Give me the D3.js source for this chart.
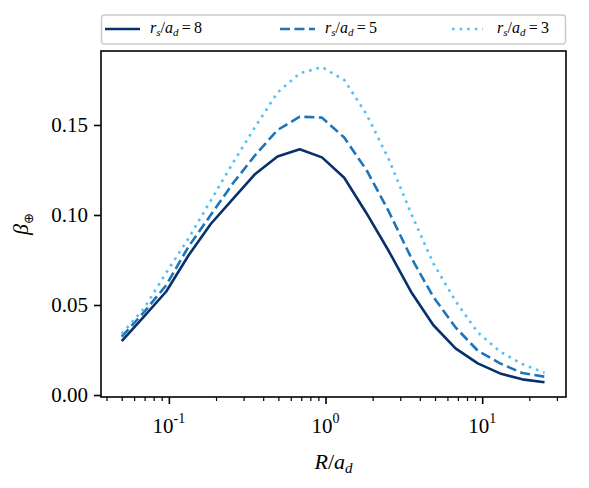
<!DOCTYPE html>
<html>
<head>
<script src="https://cdn.jsdelivr.net/npm/d3@7"></script>
</head>
<body style="margin:0">
<script>
// R / a_d sample points (log spaced)
const radius = [0.05, 0.0693, 0.0962, 0.1334, 0.185, 0.2566, 0.3559, 0.4936, 0.6846, 0.9493,
                1.3166, 1.826, 2.5325, 3.5123, 4.8712, 6.7558, 9.3697, 12.995, 18.022, 25.0];

// beta for the three r_s / a_d values
const beta8 = [0.030, 0.0435, 0.0575, 0.0775, 0.095, 0.109, 0.1228, 0.1325, 0.1365, 0.132,
               0.1207, 0.101, 0.080, 0.0574, 0.0389, 0.0259, 0.0176, 0.012, 0.0087, 0.0071];
const beta5 = [0.0324, 0.046, 0.061, 0.0824, 0.100, 0.1176, 0.1333, 0.1472, 0.1546, 0.1541,
               0.143, 0.125, 0.102, 0.0765, 0.0546, 0.0376, 0.0246, 0.0176, 0.0122, 0.0102];
const beta3 = [0.034, 0.048, 0.068, 0.087, 0.108, 0.129, 0.149, 0.168, 0.1787, 0.1822,
               0.175, 0.156, 0.131, 0.101, 0.0732, 0.0522, 0.0348, 0.0241, 0.0172, 0.0124];

const seriesNames = ["8", "5", "3"];
const yTicks = [0, 0.05, 0.10, 0.15];
const yTickLabels = ["0.00", "0.05", "0.10", "0.15"];
const xTicks = [0.1, 1, 10];
const xTickExp = ["-1", "0", "1"];

const width = 589;
const height = 488;
const marginTop = 51;
const marginRight = 23;
const marginBottom = 91;
const marginLeft = 101;

const x = d3.scaleLog()
    .domain([0.03688, 34.28])
    .range([marginLeft, width - marginRight]);

const y = d3.scaleLinear()
    .domain([-0.0011, 0.1911])
    .range([height - marginBottom, marginTop]);

const styles = [
    { color: "#08306b", dash: null },
    { color: "#1f74b8", dash: "10,4.5" },
    { color: "#54bff5", dash: "2.6,5" }
];

// every text gets the serif face set directly on it
function serifText(sel, size) {
    return sel.append("text")
        .style("font-family", '"Times New Roman"')
        .attr("font-size", size)
        .attr("fill", "#000");
}

const svg = d3.select("body").append("svg")
    .attr("width", width)
    .attr("height", height);

svg.append("rect").attr("width", width).attr("height", height).attr("fill", "#fff");

// curves
const line = d3.line()
    .x((d, i) => x(radius[i]))
    .y(d => y(d));

[beta8, beta5, beta3].forEach((s, i) => {
    svg.append("path")
        .datum(s)
        .attr("fill", "none")
        .attr("stroke", styles[i].color)
        .attr("stroke-width", 2.6)
        .attr("stroke-dasharray", styles[i].dash)
        .attr("stroke-linejoin", "round")
        .attr("d", line);
});

// minor ticks for the log axis
const minor = [];
[0.01, 0.1, 1, 10].forEach(dec => {
    for (let k = 2; k <= 9; k++) {
        const v = k * dec;
        if (v > x.domain()[0] && v < x.domain()[1]) minor.push(v);
    }
});

svg.append("g")
    .attr("transform", `translate(0,${height - marginBottom})`)
    .call(d3.axisBottom(x).tickValues(minor).tickSize(4).tickFormat(""))
    .call(g => g.select(".domain").remove())
    .call(g => g.selectAll("line").attr("stroke-width", 1.2));

svg.append("g")
    .attr("transform", `translate(0,${height - marginBottom})`)
    .call(d3.axisBottom(x).tickValues(xTicks).tickSize(7).tickFormat(""))
    .call(g => g.select(".domain").remove())
    .call(g => g.selectAll("line").attr("stroke-width", 1.6));

svg.append("g")
    .attr("transform", `translate(${marginLeft},0)`)
    .call(d3.axisLeft(y).tickValues(yTicks).tickSize(7).tickFormat(""))
    .call(g => g.select(".domain").remove())
    .call(g => g.selectAll("line").attr("stroke-width", 1.6));

// tick labels, placed from the scales
xTicks.forEach((v, i) => {
    const t = serifText(svg, 21)
        .attr("x", x(v))
        .attr("y", height - marginBottom + 36)
        .attr("text-anchor", "middle");
    t.append("tspan").text("10");
    t.append("tspan").attr("dy", -10).attr("font-size", 14).text(xTickExp[i]);
});

yTicks.forEach((v, i) => {
    serifText(svg, 21)
        .attr("x", marginLeft - 13)
        .attr("y", y(v))
        .attr("dy", "0.34em")
        .attr("text-anchor", "end")
        .text(yTickLabels[i]);
});

// frame
svg.append("rect")
    .attr("x", marginLeft)
    .attr("y", marginTop)
    .attr("width", width - marginLeft - marginRight)
    .attr("height", height - marginTop - marginBottom)
    .attr("fill", "none")
    .attr("stroke", "#000")
    .attr("stroke-width", 1.6);

// axis labels
const xl = serifText(svg, 22)
    .attr("x", (marginLeft + width - marginRight) / 2)
    .attr("y", 469)
    .attr("text-anchor", "middle");
xl.append("tspan").attr("font-style", "italic").text("R");
xl.append("tspan").text("/");
xl.append("tspan").attr("font-style", "italic").text("a");
xl.append("tspan").attr("dy", 4).attr("font-style", "italic").attr("font-size", 15).text("d");

const yl = serifText(svg, 22)
    .attr("transform", `translate(28,${(marginTop + height - marginBottom) / 2}) rotate(-90)`)
    .attr("text-anchor", "middle");
yl.append("tspan").attr("font-style", "italic").text("β");
yl.append("tspan").attr("dy", 5).attr("font-size", 13).text("⊕");

// legend
const legend = svg.append("g");
legend.append("rect")
    .attr("x", 101.5)
    .attr("y", 15)
    .attr("width", 464)
    .attr("height", 29)
    .attr("rx", 3)
    .attr("fill", "#fff")
    .attr("stroke", "#cccccc")
    .attr("stroke-width", 1.5);

const legendX = [105, 280, 452];
seriesNames.forEach((name, i) => {
    legend.append("line")
        .attr("x1", legendX[i])
        .attr("x2", legendX[i] + (i === 2 ? 31 : 35))
        .attr("y1", 29)
        .attr("y2", 29)
        .attr("stroke", styles[i].color)
        .attr("stroke-width", 2.6)
        .attr("stroke-dasharray", styles[i].dash);
    const t = serifText(legend, 16)
        .attr("x", legendX[i] + 45)
        .attr("y", 33);
    t.append("tspan").attr("font-style", "italic").text("r");
    t.append("tspan").attr("dy", 3).attr("font-style", "italic").attr("font-size", 11).text("s");
    t.append("tspan").attr("dy", -3).text("/");
    t.append("tspan").attr("font-style", "italic").text("a");
    t.append("tspan").attr("dy", 3).attr("font-style", "italic").attr("font-size", 11).text("d");
    t.append("tspan").attr("dy", -3).text("\u2009=\u2009" + name);
});
</script>
</body>
</html>
